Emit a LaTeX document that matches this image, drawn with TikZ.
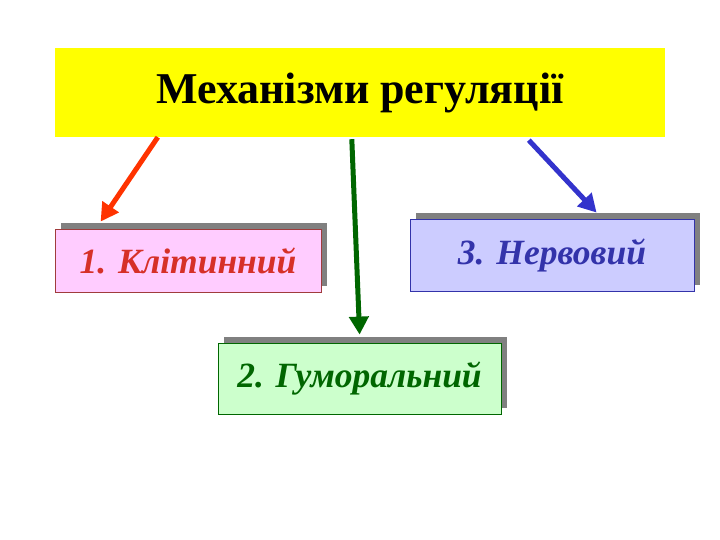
\documentclass[tikz,border=0pt]{standalone}
\usepackage{fontspec}
\setmainfont{Liberation Serif}
\usetikzlibrary{arrows.meta, positioning, calc, shadows}
\definecolor{titleyellow}{RGB}{255,255,0}
\definecolor{cellpink}{RGB}{255,204,255}
\definecolor{cellred}{RGB}{214,48,40}
\definecolor{cellframe}{RGB}{160,60,60}
\definecolor{humgreen}{RGB}{204,255,204}
\definecolor{humdark}{RGB}{0,102,0}
\definecolor{nervblue}{RGB}{204,204,255}
\definecolor{nervdark}{RGB}{51,51,170}
\definecolor{shadowgrey}{RGB}{128,128,128}
\definecolor{arrowred}{RGB}{255,51,0}
\definecolor{arrowblue}{RGB}{51,51,204}

\begin{document}
\begin{tikzpicture}[x=1pt, y=-1pt,
    mech/.style n args={3}{rectangle, fill=#1, draw=#2, text=#3, line width=0.8pt,
                   font=\fontsize{35.5}{38}\selectfont\bfseries\itshape,
                   drop shadow={shadow xshift=6pt, shadow yshift=6pt, fill=shadowgrey, opacity=1}},
    link/.style={line width=5pt, draw=#1, -{Triangle[length=18pt, width=19pt]}}
]
    \useasboundingbox (0,0) rectangle (720,540);

    % Title
    \node[fill=titleyellow, minimum width=610pt, minimum height=89pt,
          font=\fontsize{44}{48}\selectfont\bfseries] (title) at (360,92.5) {Механізми регуляції};

    % Mechanisms
    \node[mech={cellpink}{cellframe}{cellred}, minimum width=266pt, minimum height=63pt] (klit) at (188,260.5) {1. Клітинний};
    \node[mech={nervblue}{nervdark}{nervdark}, minimum width=284pt, minimum height=72pt] (nerv) at (552,255) {3. Нервовий};
    \node[mech={humgreen}{humdark}{humdark}, minimum width=283pt, minimum height=71pt] (gum) at (359.5,378.5) {2. Гуморальний};

    % Arrows
    \draw[link=arrowred] ($(title.south west)+(103,0)$) -- ($(klit.north west)+(46,-7)$);
    \draw[link=humdark] ($(title.south west)+(297,2)$) -- ($(gum.north west)+(142,-8)$);
    \draw[link=arrowblue] ($(title.south west)+(474,3)$) -- ($(nerv.north west)+(187,-6)$);
\end{tikzpicture}
\end{document}
